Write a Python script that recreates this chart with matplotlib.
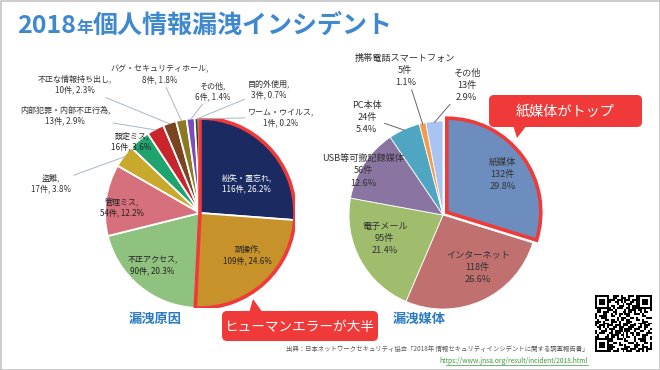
import numpy as np
import matplotlib
matplotlib.use("Agg")
import matplotlib.pyplot as plt
from matplotlib.patches import Wedge, FancyBboxPatch, Polygon, Rectangle

plt.rcParams['font.family'] = ['Noto Sans CJK JP', 'DejaVu Sans']

# ---------------- data ----------------
title_main = "2018"
title_year = "年"
title_rest = "個人情報漏洩インシデント"

cause_labels = ["紛失・置忘れ", "誤操作", "不正アクセス", "管理ミス", "盗難", "設定ミス",
                "内部犯罪・内部不正行為", "不正な情報持ち出し", "バグ・セキュリティホール",
                "その他", "目的外使用", "ワーム・ウイルス"]
cause_counts = [116, 109, 90, 54, 17, 16, 13, 10, 8, 6, 3, 1]
cause_pcts = [26.2, 24.6, 20.3, 12.2, 3.8, 3.6, 2.9, 2.3, 1.8, 1.4, 0.7, 0.2]
cause_colors = ['#1b2a60', '#c8922a', '#8fc27e', '#d6707c', '#c9a92c', '#20a46e',
                '#c8262c', '#7a4420', '#8c7a22', '#7b4cbc', '#1e4a2a', '#c84a20']

media_labels = ["紙媒体", "インターネット", "電子メール", "USB等可搬記録媒体", "PC本体",
                "携帯電話スマートフォン", "その他"]
media_counts = [132, 118, 95, 56, 24, 5, 13]
media_pcts = [29.8, 26.6, 21.4, 12.6, 5.4, 1.1, 2.9]
media_colors = ['#6c8dbd', '#c0706f', '#a0bd6e', '#8a74a2', '#4fa6c2', '#f49b52', '#a9c3f2']

callout_left = "ヒューマンエラーが大半"
callout_right = "紙媒体がトップ"
caption_left = "漏洩原因"
caption_right = "漏洩媒体"
source_text = "出典：日本ネットワークセキュリティ協会「2018年 情報セキュリティインシデントに関する調査報告書」"
source_url = "https://www.jnsa.org/result/incident/2018.html"

# ---------------- layout ----------------
W, H = 660, 370
fig = plt.figure(figsize=(W / 100, H / 100), dpi=100)
fig.patch.set_facecolor('white')

bg = fig.add_axes([0, 0, 1, 1], zorder=0)
bg.set_xlim(0, W); bg.set_ylim(H, 0); bg.axis('off')
bg.add_patch(Rectangle((0.5, 0.5), W - 1, H - 1, fill=False, edgecolor='#c4c4c4', lw=1.2))

top = fig.add_axes([0, 0, 1, 1], zorder=5)
top.set_xlim(0, W); top.set_ylim(H, 0); top.axis('off')
top.patch.set_alpha(0)

BLUE = '#3d88cf'
RED = '#f03a3a'

# title pieces
renderer = fig.canvas.get_renderer()
x = 17
for txt, fs in [(title_main, 18), (title_year, 12), (title_rest, 18)]:
    t = top.text(x, 33, txt, fontsize=fs, fontweight='bold', color=BLUE,
                 ha='left', va='baseline')
    bb = t.get_window_extent(renderer)
    x = bb.x1 + 0.3


def pie_axes(cx, cy, R):
    return fig.add_axes([(cx - R) / W, 1 - (cy + R) / H, 2 * R / W, 2 * R / H], zorder=2)


def mid_angles(vals):
    tot = float(sum(vals))
    cum = np.cumsum([0] + list(vals))
    return [np.deg2rad(90 - 360 * (cum[i] + vals[i] / 2) / tot) for i in range(len(vals))]


# ---------------- left pie ----------------
axL = pie_axes(200, 213, 95)
wl, _ = axL.pie(cause_counts, radius=1, startangle=90, counterclock=False,
                colors=cause_colors, wedgeprops=dict(edgecolor='white', linewidth=1.3))
axL.set_xlim(-1, 1); axL.set_ylim(-1, 1); axL.axis('off')
tot = float(sum(cause_counts))
span = 360 * (cause_counts[0] + cause_counts[1]) / tot
axL.add_patch(Wedge((0, 0), 1.0, 90 - span, 90, fill=False, edgecolor=RED, lw=2.6, zorder=5))

left_pos = [(0.49, 0.31), (0.50, -0.44), (-0.50, -0.55), (-0.82, 0.06), (-1.57, 0.31),
            (-0.72, 0.75), (-1.42, 1.03), (-1.32, 1.35), (-0.42, 1.46), (0.13, 1.28),
            (0.72, 1.30), (0.85, 1.01)]
inside = {0, 1, 2, 3, 5}
angs = mid_angles(cause_counts)
for i, (lab, n, p) in enumerate(zip(cause_labels, cause_counts, cause_pcts)):
    s = f"{lab},\n{n}件, {p}%"
    col = 'white' if i == 0 else '#222222'
    if i in inside:
        axL.text(*left_pos[i], s, fontsize=5.8, ha='center', va='center', color=col,
                 linespacing=1.3, zorder=6)
    else:
        a = angs[i]
        axL.annotate(s, xy=(0.99 * np.cos(a), 0.99 * np.sin(a)), xytext=left_pos[i],
                     fontsize=5.8, ha='center', va='center', color='#333333', linespacing=1.3,
                     arrowprops=dict(arrowstyle='-', color='#a9b6c6', lw=0.7,
                                     shrinkA=0, shrinkB=0), zorder=6)

# ---------------- right pie ----------------
axR = pie_axes(443, 215, 94)
explode = [0.05] + [0] * (len(media_counts) - 1)
wr, _ = axR.pie(media_counts, radius=1, startangle=90, counterclock=False, explode=explode,
                colors=media_colors, wedgeprops=dict(edgecolor='white', linewidth=0.6))
axR.set_xlim(-1, 1); axR.set_ylim(-1, 1); axR.axis('off')
wr[0].set_edgecolor(RED); wr[0].set_linewidth(2.6); wr[0].set_zorder(4)

right_pos = [(0.63, 0.43), (0.37, -0.56), (-0.62, -0.25), (-0.85, 0.47), (-0.81, 1.04),
             (-0.40, 1.54), (0.25, 1.38)]
inside_r = {0, 1, 2, 3}
angs = mid_angles(media_counts)
for i, (lab, n, p) in enumerate(zip(media_labels, media_counts, media_pcts)):
    s = f"{lab}\n{n}件\n{p}%"
    if i in inside_r:
        axR.text(*right_pos[i], s, fontsize=6.6, ha='center', va='center', color='#333333',
                 linespacing=1.45, zorder=6)
    else:
        a = angs[i]
        axR.annotate(s, xy=(0.99 * np.cos(a), 0.99 * np.sin(a)), xytext=right_pos[i],
                     fontsize=6.6, ha='center', va='center', color='#333333', linespacing=1.45,
                     arrowprops=dict(arrowstyle='-', color='#666666', lw=0.7,
                                     shrinkA=0, shrinkB=0), zorder=6)

# ---------------- captions ----------------
top.text(155, 319, caption_left, fontsize=9.5, fontweight='bold', color='#2a7bc4',
         ha='center', va='center')
top.text(419, 319, caption_right, fontsize=9.5, fontweight='bold', color='#2a7bc4',
         ha='center', va='center')

# ---------------- callouts ----------------
def callout(x0, y0, x1, y1, tri, text, fs):
    top.add_patch(FancyBboxPatch((x0, y0), x1 - x0, y1 - y0,
                                 boxstyle='round,pad=0,rounding_size=5',
                                 facecolor=RED, edgecolor='none'))
    top.add_patch(Polygon(tri, closed=True, facecolor=RED, edgecolor='none'))
    top.text((x0 + x1) / 2, (y0 + y1) / 2 + 0.5, text, fontsize=fs, color='white',
             ha='center', va='center')

callout(222, 311, 378, 341, [(249, 313), (263, 313), (253, 299)], callout_left, 9.8)
callout(489, 95, 642, 127, [(513, 125), (527, 125), (517, 138)], callout_right, 10.2)

# ---------------- source ----------------
top.text(588, 349, source_text, fontsize=4.6, color='#555555', ha='right', va='center')
top.text(588, 361, source_url, fontsize=4.8, color='#3a9a3a', ha='right', va='center')
top.plot([446, 588], [364.5, 364.5], color='#3a9a3a', lw=0.5)

# ---------------- QR-like code ----------------
N = 29
bits = np.unpackbits(np.frombuffer((source_url * 20).encode()[: (N * N + 7) // 8], dtype=np.uint8))[: N * N]
grid = bits.reshape(N, N).astype(float)
for (r, c) in [(0, 0), (0, N - 7), (N - 7, 0)]:
    grid[r:r + 7, c:c + 7] = 1
    grid[r + 1:r + 6, c + 1:c + 6] = 0
    grid[r + 2:r + 5, c + 2:c + 5] = 1
qr = fig.add_axes([595 / W, 1 - 352 / H, 57 / W, 57 / H], zorder=3)
qr.imshow(1 - grid, cmap='gray', interpolation='nearest', vmin=0, vmax=1)
qr.axis('off')

fig.savefig('out.png', dpi=100, facecolor='white')
